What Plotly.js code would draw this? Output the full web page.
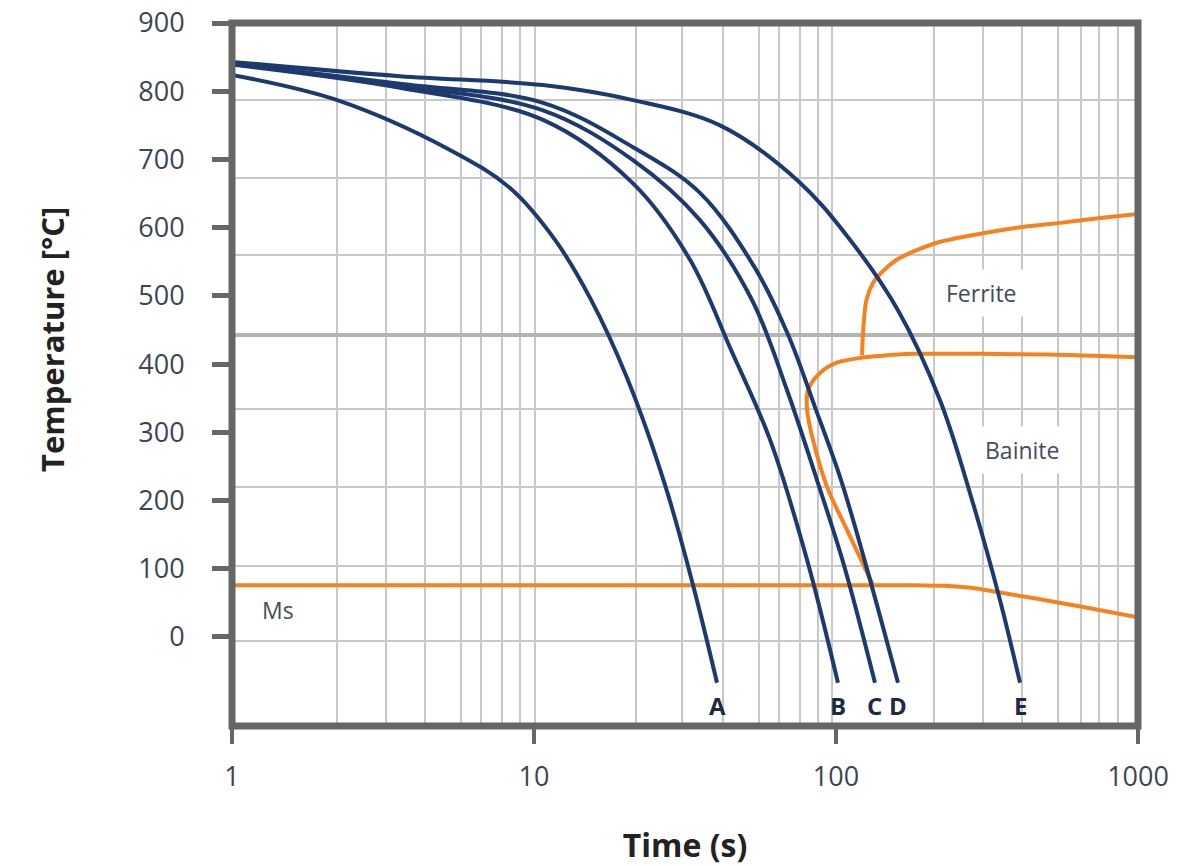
<!DOCTYPE html>
<html>
<head>
<meta charset="utf-8">
<script src="https://cdn.plot.ly/plotly-3.0.1.min.js"></script>
<style>html,body{margin:0;padding:0;background:#fff}#chart{width:1177px;height:866px}</style>
</head>
<body>
<div id="chart"></div>
<script>
// Cooling curves (time in s, temperature in °C)
const curveNames = ['A', 'B', 'C', 'D', 'E'];
const tA = [1, 2.23, 5.27, 8.33, 11.74, 15.33, 20.32, 27.15, 33.62, 40.36];
const TA = [824, 787, 714, 658, 582, 497, 380, 223, 76, -67];
const tB = [1, 3.60, 10.71, 21.27, 32.86, 44.9, 60.5, 80.2, 101.5];
const TB = [839, 805, 758, 665, 553, 421, 289, 113, -67];
const tC = [1, 3.60, 10.71, 21.27, 35.44, 52.7, 68.8, 86.5, 106.3, 134.6];
const TC = [840, 808, 772, 699, 611, 494, 362, 230, 105, -67];
const tD = [1, 3.60, 10.71, 21.27, 35.44, 53.9, 69.4, 85.2, 103.9, 125.7, 160.4];
const TD = [841, 811, 783, 718, 651, 541, 443, 337, 230, 105, -67];
const tE = [1, 3.60, 10.71, 21.27, 41.3, 74.3, 109.6, 160.4, 221, 282, 349.2, 406.8];
const TE = [843, 822, 809, 787, 750, 670, 586, 479, 347, 201, 54, -67];

// Transformation boundaries
const tMs = [1, 120, 180, 230, 280, 341, 449, 658, 1000];
const TMs = [76, 76, 76, 75, 72, 66, 57, 44, 29];
const tBainite = [132.6, 108.7, 93.4, 83.9, 80.2, 80.8, 88.5, 100.6, 120, 139.8, 180, 300, 500, 1000];
const TBainite = [76, 157, 220, 289, 333, 362, 387, 402, 409, 412, 415, 415, 414, 410];
const tFerrite = [122, 122.9, 126.1, 132.6, 142, 159, 185, 220, 282, 398, 553, 750, 1000];
const TFerrite = [413, 446, 494, 519, 535, 553, 567, 579, 589, 600, 607, 614, 620];

// Axis ticks
const xTickVals = [1, 10, 100, 1000];
const xTickText = ['1', '10', '100', '1000'];
const yTickVals = [0, 100, 200, 300, 400, 500, 600, 700, 800, 900];
// Background grid (drawn independently of the tick labels, as in the original)
const xGridVals = [2.23, 3.24, 4.35, 5.73, 6.68, 7.83, 8.99, 10.1, 21.8, 30.9, 42.2, 55.6, 64.8, 76, 87.2, 97, 211, 307, 413, 543, 648, 743, 859];
const yGridVals = [787, 673, 560, 443, 334, 220, 104, -6];
const yGridHeavy = 443;

const NAVY = '#1d3a70';
const ORANGE = '#f5821f';
const X_RANGE = [0, 3];
const Y_RANGE = [-130.5, 900];

const cooling = [[tA, TA], [tB, TB], [tC, TC], [tD, TD], [tE, TE]];
const traces = [];
// empty trace that creates the overlay subplot carrying the background grid
traces.push({x: [], y: [], xaxis: 'x2', yaxis: 'y2', type: 'scatter', mode: 'lines', hoverinfo: 'skip', showlegend: false});

[[tMs, TMs, 'Ms'], [tBainite, TBainite, 'Bainite'], [tFerrite, TFerrite, 'Ferrite']].forEach(([t, T, n]) => {
  traces.push({x: t, y: T, name: n, type: 'scatter', mode: 'lines',
    line: {color: ORANGE, width: 4, shape: 'spline', smoothing: 0.9}});
});
cooling.forEach(([t, T], i) => {
  traces.push({x: t, y: T, name: curveNames[i], type: 'scatter', mode: 'lines',
    line: {color: NAVY, width: 4, shape: 'spline', smoothing: 1}});
});

const FONT = 'Open Sans, DejaVu Sans, sans-serif';
const annotations = [];
cooling.forEach(([t, T], i) => {
  annotations.push({x: Math.log10(t[t.length - 1]), y: -101, xref: 'x', yref: 'y', text: curveNames[i],
    showarrow: false, font: {family: FONT, size: 24, color: '#1e2a44', weight: 700}});
});
annotations.push({x: Math.log10(1.42), y: 40, xref: 'x', yref: 'y', text: 'Ms', showarrow: false,
  font: {family: FONT, size: 23, color: '#444c5c'}});
annotations.push({x: Math.log10(304), y: 504, xref: 'x', yref: 'y', text: 'Ferrite', showarrow: false,
  bgcolor: '#ffffff', borderpad: 7, font: {family: FONT, size: 23, color: '#444c5c'}});
annotations.push({x: Math.log10(413), y: 274, xref: 'x', yref: 'y', text: 'Bainite', showarrow: false,
  bgcolor: '#ffffff', borderpad: 7, font: {family: FONT, size: 23, color: '#444c5c'}});
annotations.push({x: (29 - 232) / 906, y: (726 - 340) / 703, xref: 'paper', yref: 'paper', text: 'Temperature [°C]',
  textangle: -90, showarrow: false, font: {family: FONT, size: 31, color: '#222', weight: 700}});

const layout = {
  width: 1177, height: 866,
  margin: {l: 232, r: 39, t: 23, b: 140},
  paper_bgcolor: '#ffffff', plot_bgcolor: '#ffffff',
  showlegend: false,
  font: {family: FONT, color: '#3d4551'},
  xaxis: {
    type: 'log', range: X_RANGE, tickmode: 'array', tickvals: xTickVals, ticktext: xTickText,
    ticks: 'outside', ticklen: 17, tickwidth: 4, tickcolor: '#666',
    showline: false, showgrid: false, zeroline: false,
    tickfont: {size: 27, color: '#3d4551'}, ticklabelstandoff: 10,
    title: {text: 'Time (s)', font: {family: FONT, size: 32, color: '#222', weight: 700}, standoff: 48}
  },
  yaxis: {
    range: Y_RANGE, tickmode: 'array', tickvals: yTickVals,
    ticks: 'outside', ticklen: 19, tickwidth: 5, tickcolor: '#666',
    showline: false, showgrid: false, zeroline: false,
    tickfont: {size: 27, color: '#3d4551'}, ticklabelstandoff: 22
  },
  xaxis2: {
    type: 'log', range: X_RANGE, overlaying: 'x', anchor: 'y2', tickmode: 'array', tickvals: xGridVals,
    showticklabels: false, ticks: '', showgrid: true, gridcolor: '#c8c8c8', gridwidth: 2,
    showline: false, zeroline: false
  },
  yaxis2: {
    range: [Y_RANGE[0] - yGridHeavy, Y_RANGE[1] - yGridHeavy], overlaying: 'y', anchor: 'x2',
    tickmode: 'array', tickvals: yGridVals.map(v => v - yGridHeavy),
    showticklabels: false, ticks: '', showgrid: true, gridcolor: '#c8c8c8', gridwidth: 2,
    zeroline: true, zerolinecolor: '#b4b4b4', zerolinewidth: 4, showline: false
  },
  shapes: [{type: 'rect', xref: 'paper', yref: 'paper', x0: 0, x1: 1, y0: 0, y1: 1,
    line: {color: '#666666', width: 7}, fillcolor: 'rgba(0,0,0,0)', layer: 'above'}],
  annotations: annotations
};

Plotly.newPlot('chart', traces, layout, {staticPlot: true, displayModeBar: false});
</script>
</body>
</html>
